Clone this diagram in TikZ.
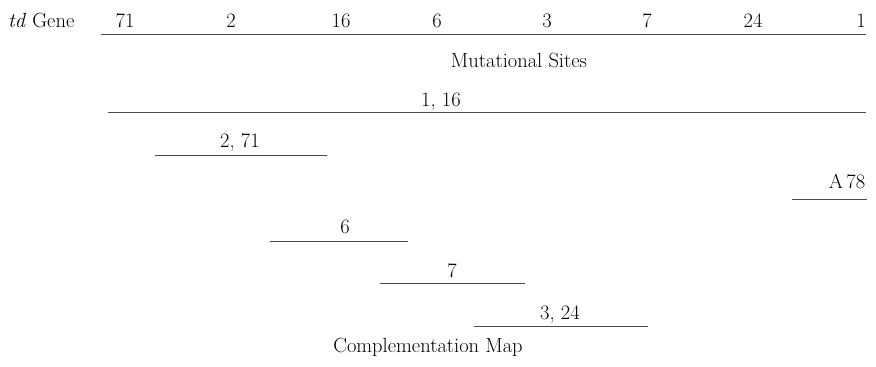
\documentclass[tikz,border=0pt]{standalone}
\usepackage{fontspec}
\begin{document}
\begin{tikzpicture}[x=1pt,y=-1pt,
  lbl/.style={inner sep=0pt,anchor=base,font=\fontsize{20.5}{24}\selectfont\addfontfeatures{LetterSpace=4}},
  seg/.style={draw=black!70,line width=0.9pt}]
\useasboundingbox (0,0) rectangle (876,367);
% gene line
\node[lbl,anchor=base west] (gene) at (8,27) {\textit{td}\ Gene};
\coordinate (g0) at (101,34);
\coordinate (g1) at (866,34);
\draw[seg] (g0) -- (g1);
\node[lbl] (s71) at (125,27) {71};
\node[lbl] (s2) at (231,27) {2};
\node[lbl] (s16) at (341,27) {16};
\node[lbl] (s6) at (437,27) {6};
\node[lbl] (s3) at (547,27) {3};
\node[lbl] (s7) at (647,27) {7};
\node[lbl] (s24) at (753,27) {24};
\node[lbl] (s1) at (861,27) {1};
\node[lbl] (ms) at (519,67) {Mutational Sites};
% complementation map
\coordinate (a0) at (108,112); \coordinate (a1) at (866,112);
\draw[seg] (a0) -- (a1);
\node[lbl] (la) at (441,106) {1, 16};
\coordinate (b0) at (155,155); \coordinate (b1) at (327,155);
\draw[seg] (b0) -- (b1);
\node[lbl] (lb) at (240,147) {2, 71};
\coordinate (c0) at (792,199); \coordinate (c1) at (867,199);
\draw[seg] (c0) -- (c1);
\node[lbl] (lc) at (847,188) {A\,78};
\coordinate (d0) at (270,241); \coordinate (d1) at (408,241);
\draw[seg] (d0) -- (d1);
\node[lbl] (ld) at (345,233) {6};
\coordinate (e0) at (380,283); \coordinate (e1) at (525,283);
\draw[seg] (e0) -- (e1);
\node[lbl] (le) at (452,277) {7};
\coordinate (f0) at (474,326); \coordinate (f1) at (648,326);
\draw[seg] (f0) -- (f1);
\node[lbl] (lf) at (560,319) {3, 24};
\node[lbl] (cm) at (428,352) {Complementation Map};
\end{tikzpicture}
\end{document}
